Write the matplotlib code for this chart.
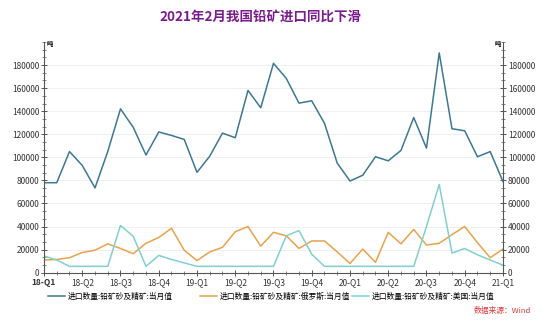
import numpy as np
import matplotlib
matplotlib.use("Agg")
import matplotlib.pyplot as plt
from matplotlib.ticker import MultipleLocator, AutoMinorLocator

plt.rcParams['font.family'] = ['Noto Sans CJK SC', 'DejaVu Sans']
plt.rcParams['axes.unicode_minus'] = False

# monthly import volume (tonnes), 2018-01 .. 2021-01
total = [78000, 78000, 105000, 93000, 73500, 105000, 142000, 126000, 102000, 122000,
         119000, 115500, 87000, 101000, 121000, 117000, 158000, 143000, 181500, 168500,
         147000, 149000, 129500, 95000, 79500, 84500, 100500, 97000, 106000, 134500,
         108000, 190500, 124800, 123000, 100500, 105000, 79000]
russia = [11000, 11500, 13000, 17500, 19500, 25000, 21000, 16500, 25500, 30500,
          38500, 19500, 10500, 18000, 22000, 35500, 40000, 23000, 35000, 32000,
          21000, 27500, 27500, 18000, 8000, 20500, 9000, 35000, 25000, 37500,
          24000, 25500, 33000, 40000, 26000, 13000, 20500]
usa = [14500, 11000, 5500, 5500, 5500, 5500, 41000, 31500, 5500, 15000,
       11500, 8500, 5500, 5500, 5500, 5500, 5500, 5500, 5500, 32000,
       36500, 16000, 5500, 5500, 5500, 5500, 5500, 5500, 5500, 5500,
       40000, 76500, 17000, 21000, 15500, 11000, 6500]
quarters = ['18-Q1', '18-Q2', '18-Q3', '18-Q4', '19-Q1', '19-Q2', '19-Q3', '19-Q4',
            '20-Q1', '20-Q2', '20-Q3', '20-Q4', '21-Q1']
names = ['进口数量:铅矿砂及精矿:当月值',
         '进口数量:铅矿砂及精矿:俄罗斯:当月值',
         '进口数量:铅矿砂及精矿:美国:当月值']
colors = ['#3b7894', '#eaa24c', '#82cfcf']

x = np.arange(len(total))

fig = plt.figure(figsize=(5.5, 3.28), dpi=100)
ax = fig.add_axes([0.08, 0.1686, 0.8345, 0.7034])

lines = []
for ys, c in zip([total, russia, usa], colors):
    ln, = ax.plot(x, ys, color=c, lw=1.1)
    lines.append(ln)

ax.set_xlim(0, len(total) - 1)
ax.set_ylim(0, 200000)
ax.yaxis.set_major_locator(MultipleLocator(20000))
ax.yaxis.set_minor_locator(AutoMinorLocator(3))
ax.set_yticks(np.arange(0, 200000, 20000))
ax.set_xticks(np.arange(0, len(total), 3))
ax.set_xticklabels(quarters)
ax.xaxis.set_minor_locator(MultipleLocator(1))
ax.get_xticklabels()[0].set_fontweight('bold')

ax.grid(axis='y', color='#ececec', lw=0.6)
ax.set_axisbelow(True)
for s in ['left', 'right', 'bottom']:
    ax.spines[s].set_color('#555555')
    ax.spines[s].set_linewidth(0.8)
ax.spines['top'].set_visible(False)

ax.tick_params(axis='y', which='both', left=True, right=True, labelleft=True,
               labelright=True, direction='inout', colors='#555555',
               labelcolor='#333333', labelsize=6, pad=1)
ax.tick_params(axis='y', which='major', length=5, width=0.7)
ax.tick_params(axis='y', which='minor', length=3, width=0.5)
ax.tick_params(axis='x', which='both', direction='inout', colors='#555555',
               labelcolor='#333333', labelsize=6, pad=1.5)
ax.tick_params(axis='x', which='major', length=5, width=0.7)
ax.tick_params(axis='x', which='minor', length=3, width=0.5)

# unit marks at the top of both axes
fig.text(0.084, 0.868, '吨', fontsize=4.5, fontweight='bold', ha='left', va='center')
fig.text(0.911, 0.868, '吨', fontsize=4.5, fontweight='bold', ha='right', va='center')

fig.text(0.4736, 0.948, '2021年2月我国铅矿进口同比下滑', fontsize=9.7,
         fontweight='bold', color='#7a1c8c', ha='center', va='center')

# legend entries sit on fixed columns
for ln, name, lx in zip(lines, names, [48, 200, 352]):
    fig.legend([ln], [name], loc='center left', bbox_to_anchor=(lx / 550, 0.0945),
               frameon=False, fontsize=5.6, handlelength=2.2, handletextpad=0.3,
               borderpad=0, borderaxespad=0)

fig.text(0.965, 0.052, '数据来源：Wind', fontsize=5.6, color='#e03a3a',
         style='italic', ha='right', va='center')

fig.savefig('out.png', dpi=100)
